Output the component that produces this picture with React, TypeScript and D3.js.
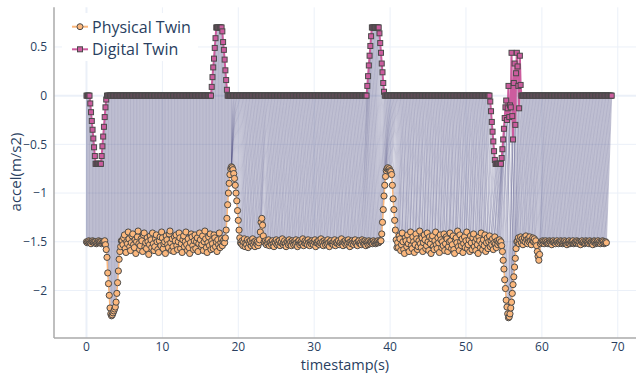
import React, { useMemo } from "react";
import * as d3 from "d3";

const WIDTH = 639;
const HEIGHT = 373;
const SAMPLE_STEP = 0.1; // seconds between samples (both twins)

const X_TICKS = [0, 10, 20, 30, 40, 50, 60, 70];
const Y_TICKS = [0.5, 0, -0.5, -1, -1.5, -2];
const SERIES_NAMES = ["Physical Twin", "Digital Twin"];
const X_TITLE = "timestamp(s)";
const Y_TITLE = "accel(m/s2)";

// ---- Physical twin acceleration, hundredths of m/s2 ----
const PHYS_IDLE = [-150,-151,-150,-149,-150,-151,-152,-150,-149,-150,-151,-150,-150,-152,-151,-150,-149,-150,-151,-150,-152,-151,-150,-150,-149];
const PHYS_DIP_1 = [-153,-158,-166,-182,-193,-205,-218,-224,-226,-225,-223,-221,-219,-217,-212,-203,-192,-180,-168,-160,-155,-149];
const PHYS_CRUISE_1 = [
-149,-153,-146,-143,-157,-161,-150,-152,-140,-147,-155,-159,-151,-144,-142,-153,-156,-148,-162,-150,
-145,-139,-152,-158,-154,-147,-149,-160,-143,-141,-155,-151,-157,-146,-150,-163,-153,-144,-148,-156,
-141,-152,-159,-155,-147,-143,-150,-158,-161,-149,-145,-154,-140,-146,-157,-152,-150,-162,-144,-148,
-153,-156,-142,-139,-151,-159,-147,-155,-160,-145,-149,-143,-154,-158,-150,-141,-146,-157,-152,-161,
-148,-144,-155,-150,-140,-153,-159,-147,-156,-162,-151,-142,-145,-154,-158,-149,-143,-157,-150,-146,
-160,-152,-141,-148,-155,-153,-144,-159,-150,-139,-147,-156,-161,-151,-145,-154,-142,-158,-149,-152,
-157,-143,-146,-155,-150,-160,-148,-153,-141,-156,-151,-147,-154,-150,-148,-151];
const PHYS_PEAK_1 = [-146,-138,-126,-112,-100,-90,-81,-75,-73,-74,-76,-80,-85,-92,-100,-108,-118,-128,-138,-146,-151];
const PHYS_CRUISE_2A = [-152,-149,-154,-150,-147,-155,-151,-153,-148,-156,-150,-152,-149,-154,-151,-147,-153,-150,-155,-149,-152,-150,-154,-151,-148];
const PHYS_BUMP = [-140,-130,-126,-133,-144,-150];
const PHYS_CRUISE_2B = [
-151,-149,-153,-150,-152,-148,-154,-151,-150,-153,-149,-152,-155,-150,-151,-148,-153,-150,-152,-149,
-154,-151,-150,-147,-153,-151,-149,-152,-155,-150,-151,-153,-148,-152,-150,-154,-149,-151,-153,-150,
-152,-148,-151,-155,-150,-149,-153,-151,-150,-152,-147,-154,-151,-149,-152,-150,-153,-148,-151,-154,
-150,-152,-149,-151,-153,-150,-148,-155,-151,-150,-152,-149,-153,-151,-147,-152,-150,-154,-149,-151,
-153,-150,-152,-148,-151,-155,-150,-149,-152,-151,-153,-150,-148,-154,-151,-150,-152,-149,-153,-151,
-150,-147,-152,-154,-150,-151,-149,-153,-150,-152,-148,-151,-155,-150,-152,-149,-151,-153,-150,-148,
-152,-151,-154,-150,-149,-152,-151,-153,-148,-150,-152,-151,-149,-154,-150,-151,-153,-149,-152,-150,
-151,-150,-152,-149,-151,-150,-152,-151,-150,-149,-151,-150,-149];
const PHYS_PEAK_2 = [-149,-142,-130,-117,-103,-92,-83,-77,-75,-74,-76,-75,-77,-78,-81,-92,-106,-117,-128,-138,-148,-156];
const PHYS_CRUISE_3 = [
-151,-156,-144,-147,-159,-153,-141,-150,-158,-162,-146,-149,-155,-143,-152,-160,-148,-140,-154,-157,
-145,-150,-161,-153,-142,-147,-158,-155,-149,-139,-152,-156,-146,-160,-151,-143,-148,-157,-154,-141,
-150,-159,-145,-152,-162,-147,-144,-155,-158,-149,-140,-153,-157,-146,-151,-161,-143,-148,-156,-150,
-154,-142,-159,-152,-145,-147,-160,-155,-150,-141,-149,-157,-153,-144,-158,-162,-148,-146,-151,-139,
-155,-159,-143,-150,-154,-147,-161,-152,-145,-156,-149,-140,-157,-153,-148,-160,-144,-151,-158,-146,
-142,-155,-150,-159,-147,-153,-162,-145,-149,-156,-141,-152,-158,-148,-154,-143,-160,-151,-146,-157,
-150,-144,-155,-149,-153,-147,-158,-151,-145,-152,-156,-149,-153,-150,-148,-152,-150,-154];
const PHYS_DIP_2 = [-160,-169,-178,-189,-198,-210,-217,-224,-228,-227,-224,-218,-212,-203,-194,-186,-176,-167,-157,-150];
const PHYS_CRUISE_4 = [-149,-146,-152,-148,-145,-151,-147,-153,-149,-146,-150,-144,-148,-152,-147,-150,-145,-149,-153,-148,-146,-150,-147,-151,-149];
const PHYS_DIP_3 = [-154,-160,-165,-169,-163,-152];
const PHYS_SETTLE = [
-150,-151,-149,-150,-152,-150,-149,-151,-150,-152,-151,-149,-150,-151,-153,-150,-149,-151,-150,-152,
-150,-149,-151,-152,-150,-151,-149,-150,-152,-151,-150,-149,-151,-150,-153,-151,-150,-149,-152,-150,
-151,-150,-149,-152,-151,-150,-151,-149,-150,-152,-150,-151,-153,-150,-149,-151,-150,-152,-151,-149,
-150,-151,-150,-152,-149,-151,-150,-151,-153,-150,-149,-150,-152,-151,-150,-149,-151,-150,-152,-150,
-151,-149,-150,-152,-151,-150,-151];

// ---- Digital twin acceleration, hundredths of m/s2 ----
const hold = (value: number, count: number) => new Array(count).fill(value);
const DIG_DOWN_1 = [-8,-17,-26,-35,-44,-53,-62,-70];
const DIG_UP_1 = [-62,-52,-42,-32,-22,-12,-4];
const DIG_RISE_2 = [9,19,29,38,49,59];
const DIG_FALL_2 = [66,55,47,37,26,16,6];
const DIG_RISE_3 = [10,20,31,41,51,61];
const DIG_FALL_3 = [64,54,44,33,24,13,4];
const DIG_DOWN_4 = [-6,-16,-27,-37,-47,-57,-66];
const DIG_UP_4 = [-64,-55,-45,-34,-23,-12,-5];
const DIG_JITTER_4 = [-25,-13,10,-22,-10,-12,44,-21,-45,13,33,-30,23,44,30,10,-13,41,11];

const PHYSICAL_VALUES = [
  ...PHYS_IDLE, ...PHYS_DIP_1, ...PHYS_CRUISE_1, ...PHYS_PEAK_1, ...PHYS_CRUISE_2A,
  ...PHYS_BUMP, ...PHYS_CRUISE_2B, ...PHYS_PEAK_2, ...PHYS_CRUISE_3, ...PHYS_DIP_2,
  ...PHYS_CRUISE_4, ...PHYS_DIP_3, ...PHYS_SETTLE,
].map((v) => v / 100);

const DIGITAL_VALUES = [
  ...hold(0, 5), ...DIG_DOWN_1, ...hold(-70, 7), ...DIG_UP_1,
  ...hold(0, 138), ...DIG_RISE_2, ...hold(70, 8), ...DIG_FALL_2,
  ...hold(0, 184), ...DIG_RISE_3, ...hold(70, 10), ...DIG_FALL_3,
  ...hold(0, 139), ...DIG_DOWN_4, ...hold(-70, 8), ...DIG_UP_4, ...DIG_JITTER_4,
  ...hold(0, 120),
].map((v) => v / 100);

const PHYSICAL_TIME = PHYSICAL_VALUES.map((_, i) => +(i * SAMPLE_STEP).toFixed(2));
const DIGITAL_TIME = DIGITAL_VALUES.map((_, i) => +(i * SAMPLE_STEP).toFixed(2));

function dtwPath(a: number[], b: number[]): [number, number][] {
  const n = a.length, m = b.length;
  const D = new Float64Array(n * m);
  for (let i = 0; i < n; i++) {
    for (let j = 0; j < m; j++) {
      const c = Math.abs(a[i] - b[j]);
      let best: number;
      if (i === 0 && j === 0) best = 0;
      else if (i === 0) best = D[j - 1];
      else if (j === 0) best = D[(i - 1) * m];
      else best = Math.min(D[(i - 1) * m + j - 1], D[(i - 1) * m + j], D[i * m + j - 1]);
      D[i * m + j] = c + best;
    }
  }
  const path: [number, number][] = [];
  let i = n - 1, j = m - 1;
  path.push([i, j]);
  while (i > 0 || j > 0) {
    if (i === 0) j--;
    else if (j === 0) i--;
    else {
      const diag = D[(i - 1) * m + j - 1];
      const up = D[(i - 1) * m + j];
      const left = D[i * m + j - 1];
      if (diag <= up && diag <= left) { i--; j--; }
      else if (up <= left) i--;
      else j--;
    }
    path.push([i, j]);
  }
  return path.reverse();
}

const FONT = "'Open Sans', verdana, arial, sans-serif";
const TEXT_COLOR = "#2a3f5f";
const GRID = "#ebf0f8";
const ORANGE = "#fbb77c";
const PINK = "#cc5c9e";
const OUTLINE = "#4a4a4a";

export default function App() {
  const left = 54, right = 636, top = 7.3, bottom = 338;
  const x = d3.scaleLinear().domain([-4.28, 72.4]).range([left, right]);
  const y = d3.scaleLinear().domain([-2.488, 0.907]).range([bottom, top]);

  const path = useMemo(() => dtwPath(PHYSICAL_VALUES, DIGITAL_VALUES), []);

  const physLine = d3.line<number>().x((_, i) => x(PHYSICAL_TIME[i])).y((d) => y(d))(PHYSICAL_VALUES) || "";
  const digLine = d3.line<number>().x((_, i) => x(DIGITAL_TIME[i])).y((d) => y(d))(DIGITAL_VALUES) || "";
  const sq = 5;

  return (
    <svg width={WIDTH} height={HEIGHT} style={{ position: "absolute", left: 0, top: 0, background: "#fff" }}>
      {/* grid */}
      {X_TICKS.map((t) => (
        <line key={"gx" + t} x1={x(t)} x2={x(t)} y1={top} y2={bottom} stroke={GRID} strokeWidth={t === 0 ? 2 : 1} />
      ))}
      {Y_TICKS.map((t) => (
        <line key={"gy" + t} x1={left} x2={right} y1={y(t)} y2={y(t)} stroke={GRID} strokeWidth={t === 0 ? 2 : 1} />
      ))}
      {/* axis lines */}
      <line x1={left} x2={left} y1={top} y2={bottom} stroke="#aaaaaa" strokeWidth={1.5} />
      <line x1={left} x2={right} y1={bottom} y2={bottom} stroke="#aaaaaa" strokeWidth={1.5} />

      {/* DTW alignment lines */}
      <g>
        {path.map(([i, j], k) => (
          <line key={"w" + k} x1={x(PHYSICAL_TIME[i])} y1={y(PHYSICAL_VALUES[i])} x2={x(DIGITAL_TIME[j])} y2={y(DIGITAL_VALUES[j])}
            stroke="rgba(85,85,135,0.34)" strokeWidth={1} />
        ))}
      </g>

      {/* physical twin */}
      <path d={physLine} fill="none" stroke={ORANGE} strokeWidth={1.5} />
      {PHYSICAL_VALUES.map((v, i) => (
        <circle key={"p" + i} cx={x(PHYSICAL_TIME[i])} cy={y(v)} r={3.1} fill={ORANGE} stroke={OUTLINE} strokeWidth={1} />
      ))}

      {/* digital twin */}
      <path d={digLine} fill="none" stroke={PINK} strokeWidth={2} />
      {DIGITAL_VALUES.map((v, i) => (
        <rect key={"d" + i} x={x(DIGITAL_TIME[i]) - sq / 2} y={y(v) - sq / 2} width={sq} height={sq} fill={PINK} stroke={OUTLINE} strokeWidth={1} />
      ))}

      {/* tick labels */}
      {X_TICKS.map((t) => (
        <text key={"tx" + t} x={x(t)} y={350.5} textAnchor="middle" fontFamily={FONT} fontSize={12} fill={TEXT_COLOR}>{t}</text>
      ))}
      {Y_TICKS.map((t) => (
        <text key={"ty" + t} x={47} y={y(t) + 4.2} textAnchor="end" fontFamily={FONT} fontSize={12} fill={TEXT_COLOR}>
          {t < 0 ? "\u2212" + Math.abs(t) : String(t)}
        </text>
      ))}
      <text x={(left + right) / 2} y={369.5} textAnchor="middle" fontFamily={FONT} fontSize={14.5} fill={TEXT_COLOR}>{X_TITLE}</text>
      <text transform={`translate(21,172) rotate(-90)`} textAnchor="middle" fontFamily={FONT} fontSize={15} fill={TEXT_COLOR}>{Y_TITLE}</text>

      {/* legend */}
      <rect x={62} y={13} width={136} height={48} fill="#fff" />
      <g>
        <line x1={72} x2={88} y1={26.7} y2={26.7} stroke={ORANGE} strokeWidth={2} />
        <circle cx={80} cy={26.7} r={3} fill={ORANGE} stroke={OUTLINE} strokeWidth={1} />
        <text x={92} y={32.5} fontFamily={FONT} fontSize={16} fill={TEXT_COLOR}>{SERIES_NAMES[0]}</text>
        <line x1={72} x2={88} y1={49.3} y2={49.3} stroke={PINK} strokeWidth={2} />
        <rect x={80 - sq / 2} y={49.3 - sq / 2} width={sq} height={sq} fill={PINK} stroke={OUTLINE} strokeWidth={1} />
        <text x={92} y={55} fontFamily={FONT} fontSize={16} fill={TEXT_COLOR}>{SERIES_NAMES[1]}</text>
      </g>
    </svg>
  );
}
